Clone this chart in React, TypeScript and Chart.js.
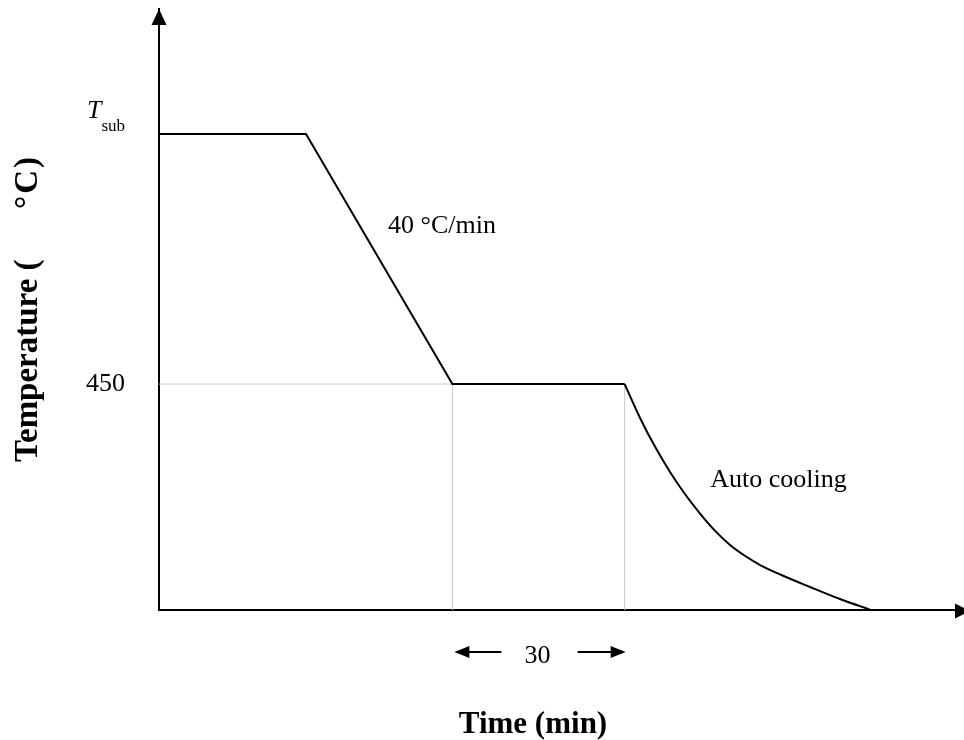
import React, { useEffect, useRef } from "react";
import { Chart, registerables } from "chart.js";

Chart.register(...registerables);

// ---- data (time in min, temperature in °C, schematic) ----
const T_SUB = 948;
const profileTime = [0, 25.6, 51.1, 81.1];
const profileTemp = [T_SUB, T_SUB, 450, 450];
const coolingTime = [81.1, 83.8, 86.4, 89.0, 91.6, 94.3, 96.9, 99.5, 102.1, 104.7, 108.2, 113.4, 118.6, 124.0];
const coolingTemp = [450, 382, 325, 275, 231, 191, 157, 129, 107.5, 89.6, 70.7, 45.8, 21.9, 0];
const yTickValues = [450, T_SUB];
const yTickLabels = ["450", ""];
const holdLabel = "30";
const rampLabel = "40 °C/min";
const coolLabel = "Auto cooling";
const xTitle = "Time (min)";
const yTitleA = "Temperature (";
const yTitleB = "°C)";
const X_MAX = 140.2;
const Y_MAX = 1197;

const SERIF = "'Liberation Serif', 'Times New Roman', serif";

const annotatePlugin = {
  id: "annotate",
  afterDraw(chart: any) {
    const { ctx, chartArea } = chart;
    const xs = chart.scales.x;
    const ys = chart.scales.y;
    const L = chartArea.left;
    const B = chartArea.bottom;
    ctx.save();
    ctx.fillStyle = "#000";
    ctx.strokeStyle = "#000";

    // y-axis arrow head
    ctx.beginPath();
    ctx.moveTo(L, chartArea.top);
    ctx.lineTo(L - 7.5, chartArea.top + 16);
    ctx.lineTo(L + 7.5, chartArea.top + 16);
    ctx.closePath();
    ctx.fill();

    // x-axis arrow head
    const R = chartArea.right;
    ctx.beginPath();
    ctx.moveTo(R + 6, B + 1);
    ctx.lineTo(R - 9, B - 6.5);
    ctx.lineTo(R - 9, B + 8.5);
    ctx.closePath();
    ctx.fill();

    // T_sub tick label
    const ty = ys.getPixelForValue(T_SUB);
    ctx.textBaseline = "alphabetic";
    ctx.font = `17px ${SERIF}`;
    ctx.textAlign = "right";
    ctx.fillText("sub", 125, ty - 3);
    const subW = ctx.measureText("sub").width;
    ctx.font = `italic 26px ${SERIF}`;
    ctx.fillText("T", 125 - subW, ty - 16);

    // ramp / cooling labels
    ctx.font = `26px ${SERIF}`;
    ctx.textAlign = "left";
    ctx.fillText(rampLabel, xs.getPixelForValue(39.9), ys.getPixelForValue(750));
    ctx.fillText(coolLabel, xs.getPixelForValue(96), ys.getPixelForValue(245));

    // hold duration annotation
    const hs = xs.getPixelForValue(profileTime[2]);
    const he = xs.getPixelForValue(profileTime[3]);
    ctx.textAlign = "center";
    ctx.fillText(holdLabel, (hs + he) / 2 - 1, B + 53);
    const ay = B + 42;
    ctx.lineWidth = 2;
    ctx.beginPath();
    ctx.moveTo(hs + 14, ay);
    ctx.lineTo(hs + 49, ay);
    ctx.stroke();
    ctx.beginPath();
    ctx.moveTo(hs + 2, ay);
    ctx.lineTo(hs + 17, ay - 6);
    ctx.lineTo(hs + 17, ay + 6);
    ctx.closePath();
    ctx.fill();
    ctx.beginPath();
    ctx.moveTo(he - 47, ay);
    ctx.lineTo(he - 12, ay);
    ctx.stroke();
    ctx.beginPath();
    ctx.moveTo(he + 1, ay);
    ctx.lineTo(he - 14, ay - 6);
    ctx.lineTo(he - 14, ay + 6);
    ctx.closePath();
    ctx.fill();

    // axis titles
    ctx.font = `bold 31px ${SERIF}`;
    ctx.textAlign = "center";
    ctx.fillText(xTitle, 533, B + 123);

    ctx.save();
    ctx.font = `bold 33px ${SERIF}`;
    ctx.translate(37, 462);
    ctx.rotate(-Math.PI / 2);
    ctx.textAlign = "left";
    ctx.fillText(yTitleA, 0, 0);
    try {
      (ctx as any).letterSpacing = "2px";
    } catch (e) {}
    ctx.textAlign = "right";
    ctx.fillText(yTitleB, 462 - 155, 0);
    ctx.restore();

    ctx.restore();
  },
};

export default function App() {
  const ref = useRef<HTMLCanvasElement | null>(null);

  useEffect(() => {
    if (!ref.current) return;
    const profile = profileTime.map((t, i) => ({ x: t, y: profileTemp[i] }));
    const cooling = coolingTime.map((t, i) => ({ x: t, y: coolingTemp[i] }));
    const holdStart = profileTime[2];
    const holdEnd = profileTime[3];
    const guideStyle = {
      borderColor: "#c8c8c8",
      borderWidth: 1,
      pointRadius: 0,
      tension: 0,
    };
    const chart = new Chart(ref.current, {
      type: "line",
      data: {
        datasets: [
          {
            data: profile,
            borderColor: "#000",
            borderWidth: 2,
            pointRadius: 0,
            tension: 0,
          },
          {
            data: cooling,
            borderColor: "#000",
            borderWidth: 2,
            pointRadius: 0,
            cubicInterpolationMode: "monotone",
          },
          { data: [{ x: 0, y: 450 }, { x: holdStart, y: 450 }], ...guideStyle },
          { data: [{ x: holdStart, y: 0 }, { x: holdStart, y: 450 }], ...guideStyle },
          { data: [{ x: holdEnd, y: 0 }, { x: holdEnd, y: 450 }], ...guideStyle },
        ],
      },
      options: {
        animation: false,
        responsive: false,
        maintainAspectRatio: false,
        layout: { padding: { top: 9, right: 0, left: 0, bottom: 0 } },
        plugins: {
          legend: { display: false },
          tooltip: { enabled: false },
        },
        scales: {
          x: {
            type: "linear",
            min: 0,
            max: X_MAX,
            grid: { display: false, drawTicks: false },
            border: { display: true, color: "#000", width: 2 },
            ticks: { display: false },
            afterFit: (scale: any) => {
              scale.height = 130;
              scale.paddingLeft = 0;
              scale.paddingRight = 0;
              scale.paddingTop = 0;
              scale.paddingBottom = 0;
            },
          },
          y: {
            type: "linear",
            min: 0,
            max: Y_MAX,
            grid: { display: false, drawTicks: false },
            border: { display: true, color: "#000", width: 2 },
            afterBuildTicks: (scale: any) => {
              scale.ticks = yTickValues.map((v) => ({ value: v }));
            },
            ticks: {
              color: "#000",
              padding: 34,
              font: { family: SERIF, size: 26 },
              callback: (value: any) => {
                const i = yTickValues.indexOf(Number(value));
                return i >= 0 ? yTickLabels[i] : "";
              },
            },
            afterFit: (scale: any) => {
              scale.width = 159;
              scale.paddingLeft = 0;
              scale.paddingRight = 0;
              scale.paddingTop = 0;
              scale.paddingBottom = 0;
            },
          },
        },
      } as any,
      plugins: [annotatePlugin],
    });
    return () => chart.destroy();
  }, []);

  return (
    <div style={{ position: "absolute", left: 0, top: 0, width: 964, height: 740, background: "#fff" }}>
      <canvas ref={ref} width={964} height={740} style={{ display: "block", width: 964, height: 740 }} />
    </div>
  );
}
